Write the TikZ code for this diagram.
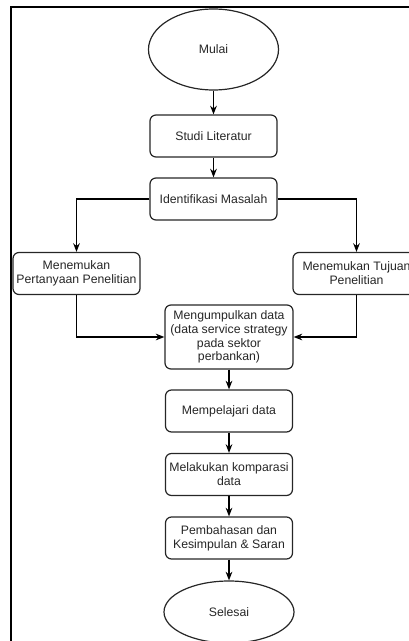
\documentclass[tikz,border=0pt]{standalone}
\usepackage{fontspec}
\setmainfont{Liberation Sans}
\usetikzlibrary{arrows.meta,shapes.geometric,positioning}

\begin{document}
\begin{tikzpicture}[x=0.75pt,y=-0.75pt,on grid,>={Stealth[length=6.5pt,width=5pt]}]
       \tikzstyle{every node}=[font=\fontsize{9.2}{10.4}\selectfont, text=black!85]
       \tikzstyle{proses}=[draw=black!85, line width=0.9pt, rounded corners=4.5pt, minimum width=95.25pt, minimum height=31.5pt, inner sep=1pt, align=center]
       \tikzstyle{terminal}=[draw=black!85, line width=0.9pt, ellipse, minimum width=97.5pt, inner sep=0pt]

       \useasboundingbox (0,0) rectangle (409,641);
       \draw[line width=1.5pt] (11,641) |- (409,7);

       \node[terminal, minimum height=60.75pt] (mulai) at (213.5,49.5) {Mulai};
       \node[proses] (studi) [below=64.875pt of mulai] {Studi Literatur};
       \node[proses] (identifikasi) [below=47.25pt of studi] {Identifikasi Masalah};
       \node[proses] (pertanyaan) [below left=55.875pt and 102.75pt of identifikasi] {Menemukan\\Pertanyaan Penelitian};
       \node[proses] (tujuan) [below right=55.875pt and 107.25pt of identifikasi] {Menemukan Tujuan\\Penelitian};
       \node[proses, minimum width=96pt, minimum height=48pt] (kumpul) [below right=103.5pt and 11.625pt of identifikasi] {Mengumpulkan data\\(data service strategy\\pada sektor\\perbankan)};
       \node[proses] (pelajari) [below=55.5pt of kumpul] {Mempelajari data};
       \node[proses] (komparasi) [below=47.625pt of pelajari] {Melakukan komparasi\\data};
       \node[proses] (bahas) [below=47.625pt of komparasi] {Pembahasan dan\\Kesimpulan \& Saran};
       \node[terminal, minimum height=46.5pt] (selesai) [below=55.5pt of bahas] {Selesai};

       \path[->, draw=black, line width=0.9pt]
       (mulai) edge (studi)
       (studi) edge (identifikasi)
       (kumpul) edge (pelajari)
       (pelajari) edge (komparasi)
       (komparasi) edge (bahas)
       (bahas) edge (selesai);

       \draw[->, line width=0.9pt] (identifikasi) -| (pertanyaan);
       \draw[->, line width=0.9pt] (identifikasi) -| (tujuan);
       \draw[->, line width=0.9pt] (pertanyaan) |- (kumpul);
       \draw[->, line width=0.9pt] (tujuan) |- (kumpul);

     \end{tikzpicture}
\end{document}
